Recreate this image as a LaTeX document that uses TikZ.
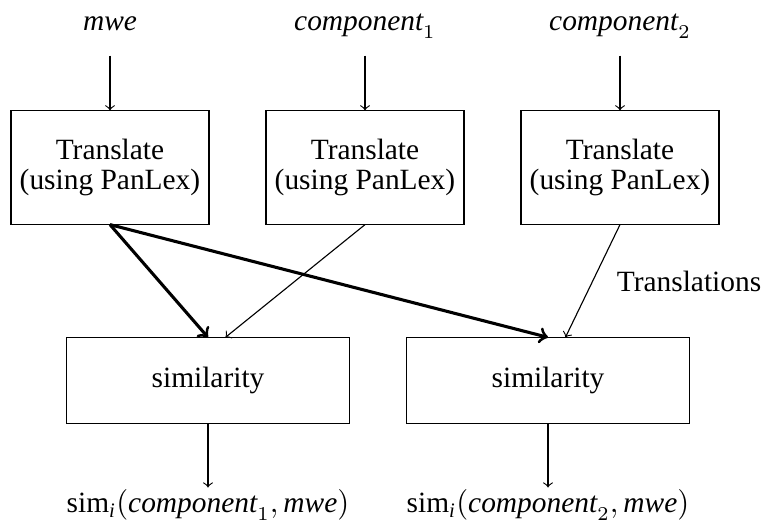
\documentclass[tikz,border=0pt]{standalone}
\usepackage{fontspec}
\setmainfont{Liberation Serif}
\begin{document}
\begin{tikzpicture}[
            x=0.357pt, y=-0.357pt,
            font=\fontsize{10.5}{10.5}\selectfont,
            box/.style={draw, line width=0.4pt, align=center, inner sep=0pt},
            trans_box/.style={box, minimum width=70.7pt, minimum height=40.4pt},
            sim_box/.style={box, minimum width=101pt, minimum height=30.4pt},
            io/.style={anchor=base, text height=7pt, text depth=2pt, inner sep=1.9pt},
            line/.style={draw, line width=0.4pt, ->},
            thick_line/.style={draw, line width=1.1pt, ->}
        ]
        \useasboundingbox (0,0) rectangle (765,522);

        % Inputs
        \node[io] (mwe) at (110,31) {$\mathit{mwe}$};
        \node[io] (comp1) at (365,31) {$\mathit{component}_1$};
        \node[io] (comp2) at (620,31) {$\mathit{component}_2$};

        % Translation step
        \node[trans_box] (trans_mwe) at (110,167.5) {Translate\\(using PanLex)};
        \node[trans_box] (trans_c1) at (365,167.5) {Translate\\(using PanLex)};
        \node[trans_box] (trans_c2) at (620,167.5) {Translate\\(using PanLex)};

        \node[io] (transl) at (689,292) {Translations};

        % Similarity step
        \node[sim_box] (sim1) at (208,380.5) {similarity};
        \node[sim_box] (sim2) at (548,380.5) {similarity};

        % Outputs
        \node[io] (out1) at (208,513) {$\mathrm{sim}_{\mathit{i}}(\mathit{component}_1, \mathit{mwe})$};
        \node[io] (out2) at (548,513) {$\mathrm{sim}_{\mathit{i}}(\mathit{component}_2, \mathit{mwe})$};

        \draw[line, shorten <=4.7pt] (mwe) -- (trans_mwe);
        \draw[line, shorten <=4.7pt] (comp1) -- (trans_c1);
        \draw[line, shorten <=4.7pt] (comp2) -- (trans_c2);

        \draw[thick_line] (trans_mwe.south) -- (sim1.north);
        \draw[thick_line] (trans_mwe.south) -- (sim2.north);

        \draw[line] (trans_c1.south) -- (sim1.68);
        \draw[line] (trans_c2.south) -- (sim2.68);

        \draw[line] (sim1) -- (out1);
        \draw[line] (sim2) -- (out2);

    \end{tikzpicture}
\end{document}
